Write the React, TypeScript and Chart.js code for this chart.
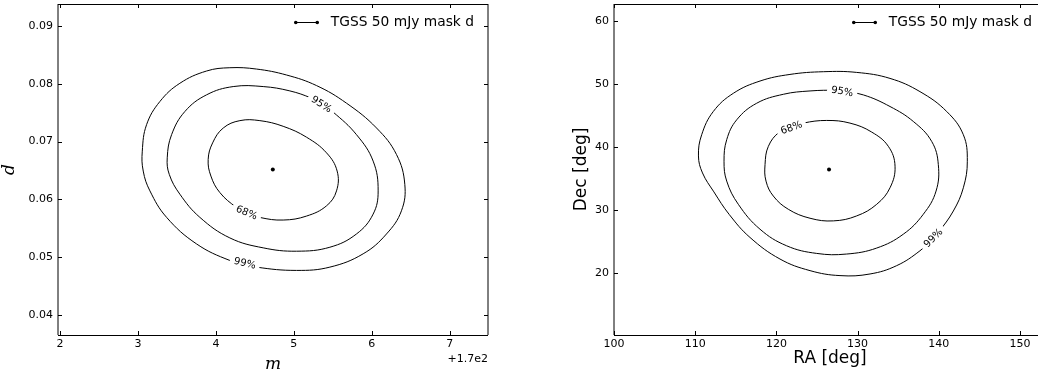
import React, { useEffect, useRef } from "react";
import { Chart, registerables } from "chart.js";

Chart.register(...registerables);

type Pt = [number, number];

// ---- tick values ----
const mTicks = [172, 173, 174, 175, 176, 177];
const dTicks = [0.04, 0.05, 0.06, 0.07, 0.08, 0.09];
const raTicks = [100, 110, 120, 130, 140, 150];
const decTicks = [20, 30, 40, 50, 60];

const legendLabel = "TGSS 50 mJy mask d";

// ---- best-fit points ----
const bestFitMD: Pt[] = [[174.73, 0.0652]];
const bestFitRaDec: Pt[] = [[126.48, 36.45]];

// ---- confidence contours in (m, d); each loop starts and ends at its label ----
const md68: Pt[] = [
  [174.394, 0.05775], [174.265, 0.05861], [174.051, 0.06119], [173.936, 0.06405],
  [173.901, 0.06692], [173.958, 0.06978], [174.094, 0.07235], [174.308, 0.07363],
  [174.564, 0.07363], [174.863, 0.07265], [175.163, 0.07076], [175.419, 0.06806],
  [175.555, 0.06491], [175.547, 0.06148], [175.419, 0.0589], [175.163, 0.05713],
  [174.863, 0.05644], [174.564, 0.05689], [174.394, 0.05775],
];
const md95: Pt[] = [
  [175.355, 0.07648], [175.504, 0.07511], [175.803, 0.07121], [176.017, 0.06663],
  [176.081, 0.06148], [176.017, 0.05747], [175.803, 0.05403], [175.462, 0.05174],
  [175.034, 0.05105], [174.607, 0.05163], [174.179, 0.05335], [173.795, 0.0569],
  [173.538, 0.06091], [173.402, 0.06434], [173.376, 0.0672], [173.432, 0.07121],
  [173.603, 0.07522], [173.88, 0.07809], [174.222, 0.07952], [174.607, 0.07952],
  [174.949, 0.07877], [175.226, 0.07751], [175.355, 0.07648],
];
const md99: Pt[] = [
  [174.372, 0.04899], [174.179, 0.04945], [173.752, 0.05231], [173.368, 0.0569],
  [173.154, 0.06148], [173.068, 0.06491], [173.056, 0.06835], [173.111, 0.07293],
  [173.282, 0.07694], [173.538, 0.08009], [173.88, 0.08221], [174.179, 0.08278],
  [174.521, 0.08255], [174.906, 0.08152], [175.291, 0.07969], [175.675, 0.07665],
  [176.06, 0.07236], [176.316, 0.06778], [176.423, 0.06262], [176.38, 0.05804],
  [176.188, 0.05403], [175.889, 0.0506], [175.462, 0.0483], [175.034, 0.04773],
  [174.521, 0.0483], [174.372, 0.04899],
];

// ---- confidence contours in (RA, Dec) ----
const radec68: Pt[] = [
  [121.84, 43.1], [123.32, 43.81], [126.19, 44.23], [129.06, 43.81], [131.73, 42.39],
  [133.78, 40.13], [134.61, 36.97], [133.99, 33.55], [132.35, 30.93], [129.89, 29.09],
  [127.01, 28.3], [124.14, 28.72], [121.47, 30.14], [119.62, 32.24], [118.72, 34.61],
  [118.6, 37.23], [119.01, 40.13], [120.36, 42.39], [121.84, 43.1],
];
const radec95: Pt[] = [
  [128.1, 48.85], [130.71, 48.28], [133.99, 46.44], [136.86, 44.07], [139.12, 40.91],
  [139.94, 37.23], [139.66, 33.03], [138.09, 29.35], [135.63, 26.19], [132.35, 23.99],
  [128.65, 23.04], [124.96, 23.14], [121.26, 24.35], [117.98, 26.98], [115.31, 30.93],
  [113.88, 34.61], [113.55, 37.76], [113.88, 41.18], [115.11, 44.33], [117.57, 46.96],
  [120.85, 48.38], [124.14, 48.91], [127.42, 49.01], [128.1, 48.85],
];
const radec99: Pt[] = [
  [139.3, 25.6], [137.68, 23.56], [134.81, 21.2], [131.53, 19.88], [127.83, 19.62],
  [124.14, 20.41], [120.44, 22.25], [116.75, 25.67], [114.2, 29.3], [112.3, 32.9],
  [110.9, 35.9], [110.4, 38.6], [110.8, 41.97], [112.23, 45.65], [114.7, 48.54],
  [117.98, 50.48], [121.67, 51.53], [125.78, 51.96], [129.89, 51.85], [133.99, 50.9],
  [137.68, 48.8], [140.97, 45.65], [143.02, 41.97], [143.51, 37.76], [143.02, 33.55],
  [141.79, 29.87], [139.94, 26.46], [139.3, 25.6],
];

const levelNames = ["68%", "95%", "99%"];

const TICK_FONT = { family: "'DejaVu Sans'", size: 11 };
const toXY = (pts: Pt[]) => pts.map(([x, y]) => ({ x, y }));

type Contour = { text: string; pts: Pt[] };

type PanelOpts = {
  contours: Contour[];
  center: Pt[];
  xRange: [number, number];
  yRange: [number, number];
  xTicks: number[];
  yTicks: number[];
  xFmt: (v: number) => string;
  yFmt: (v: number) => string;
  yAxisWidth: number;
  padRight: number;
  xTitle: string;
  yTitle: string;
  titleFont: string;
  yTitleDx: number;
  xTitleDy: number;
  offsetText?: string;
};

const decorPlugin = {
  id: "decor",
  afterDatasetsDraw(chart: any, _args: any, opts: any) {
    const ctx: CanvasRenderingContext2D = chart.ctx;
    const xs = chart.scales.x;
    const ys = chart.scales.y;
    const ca = chart.chartArea;
    ctx.save();
    ctx.beginPath();
    ctx.rect(ca.left, ca.top, ca.right - ca.left, ca.bottom - ca.top);
    ctx.clip();
    ctx.font = "10px 'DejaVu Sans'";
    for (const c of opts.contours as Contour[]) {
      const pts = c.pts;
      const n = pts.length;
      const px = xs.getPixelForValue(pts[0][0]);
      const py = ys.getPixelForValue(pts[0][1]);
      const a = pts[n - 2];
      const b = pts[1];
      let ang = Math.atan2(
        ys.getPixelForValue(b[1]) - ys.getPixelForValue(a[1]),
        xs.getPixelForValue(b[0]) - xs.getPixelForValue(a[0])
      );
      if (ang > Math.PI / 2) ang -= Math.PI;
      if (ang < -Math.PI / 2) ang += Math.PI;
      const w = ctx.measureText(c.text).width;
      ctx.save();
      ctx.translate(px, py);
      ctx.rotate(ang);
      ctx.fillStyle = "#fff";
      ctx.fillRect(-w / 2 - 4, -5, w + 8, 10);
      ctx.fillStyle = "#000";
      ctx.textAlign = "center";
      ctx.textBaseline = "middle";
      ctx.fillText(c.text, 0, 0.5);
      ctx.restore();
    }
    ctx.restore();
  },
  afterDraw(chart: any, _args: any, opts: any) {
    const ctx: CanvasRenderingContext2D = chart.ctx;
    const xs = chart.scales.x;
    const ys = chart.scales.y;
    const ca = chart.chartArea;
    ctx.save();
    // frame
    ctx.strokeStyle = "#000";
    ctx.lineWidth = 1;
    ctx.beginPath();
    ctx.moveTo(ca.left, ca.top + 0.5);
    ctx.lineTo(ca.right, ca.top + 0.5);
    ctx.moveTo(ca.left, ca.bottom + 0.5);
    ctx.lineTo(ca.right, ca.bottom + 0.5);
    ctx.moveTo(ca.left, ca.top);
    ctx.lineTo(ca.left, ca.bottom);
    ctx.moveTo(ca.right, ca.top);
    ctx.lineTo(ca.right, ca.bottom);
    ctx.stroke();
    // inward ticks on all four sides
    ctx.beginPath();
    const tl = 4;
    for (const t of xs.ticks) {
      const x = Math.round(xs.getPixelForValue(t.value)) + 0.5;
      ctx.moveTo(x, ca.bottom);
      ctx.lineTo(x, ca.bottom - tl);
      ctx.moveTo(x, ca.top);
      ctx.lineTo(x, ca.top + tl);
    }
    for (const t of ys.ticks) {
      const y = Math.round(ys.getPixelForValue(t.value)) + 0.5;
      ctx.moveTo(ca.left, y);
      ctx.lineTo(ca.left + tl, y);
      ctx.moveTo(ca.right, y);
      ctx.lineTo(ca.right - tl, y);
    }
    ctx.stroke();

    // axis titles
    ctx.fillStyle = "#000";
    ctx.textAlign = "center";
    ctx.textBaseline = "middle";
    ctx.font = opts.titleFont;
    ctx.fillText(opts.xTitle, (ca.left + ca.right) / 2, ca.bottom + opts.xTitleDy);
    ctx.save();
    ctx.translate(ca.left - opts.yTitleDx, (ca.top + ca.bottom) / 2);
    ctx.rotate(-Math.PI / 2);
    ctx.fillText(opts.yTitle, 0, 0);
    ctx.restore();

    if (opts.offsetText) {
      ctx.font = "11px 'DejaVu Sans'";
      ctx.textAlign = "right";
      ctx.fillText(opts.offsetText, ca.right, ca.bottom + 24);
    }

    // legend: line with a marker at each end, then the label
    const label = chart.data.datasets[chart.data.datasets.length - 1].label;
    ctx.font = "13.8px 'DejaVu Sans'";
    const tw = ctx.measureText(label).width;
    const textRight = ca.right - 14;
    const textLeft = textRight - tw;
    const ly = ca.top + 18.5;
    const x1 = textLeft - 13.5;
    const x0 = x1 - 21.5;
    ctx.textAlign = "left";
    ctx.fillText(label, textLeft, ly);
    ctx.beginPath();
    ctx.moveTo(x0, ly);
    ctx.lineTo(x1, ly);
    ctx.stroke();
    ctx.beginPath();
    ctx.arc(x0, ly, 1.8, 0, Math.PI * 2);
    ctx.arc(x1, ly, 1.8, 0, Math.PI * 2);
    ctx.fill();
    ctx.restore();
  },
};

function buildConfig(p: PanelOpts): any {
  const lineSets = p.contours.map((c) => ({
    label: c.text,
    data: toXY(c.pts),
    showLine: true,
    borderColor: "#000",
    borderWidth: 1,
    pointRadius: 0,
    tension: 0.4,
    fill: false,
  }));
  return {
    type: "line",
    data: {
      datasets: [
        ...lineSets,
        {
          label: legendLabel,
          data: toXY(p.center),
          showLine: false,
          pointRadius: 2,
          pointBackgroundColor: "#000",
          pointBorderColor: "#000",
          pointBorderWidth: 0,
        },
      ],
    },
    options: {
      animation: false,
      responsive: false,
      maintainAspectRatio: false,
      events: [],
      layout: { padding: { top: 2, right: p.padRight, left: 0, bottom: 0 } },
      plugins: {
        legend: { display: false },
        tooltip: { enabled: false },
        decor: p,
      },
      scales: {
        x: {
          type: "linear",
          min: p.xRange[0],
          max: p.xRange[1],
          grid: { display: false, drawTicks: false },
          border: { display: false },
          ticks: {
            font: TICK_FONT,
            color: "#000",
            padding: 3,
            maxRotation: 0,
            autoSkip: false,
            callback: (v: number) => p.xFmt(v),
          },
          afterBuildTicks: (s: any) => {
            s.ticks = p.xTicks.map((v) => ({ value: v }));
          },
          afterFit: (s: any) => {
            s.height = 41;
            s.paddingLeft = 0;
            s.paddingRight = 0;
          },
        },
        y: {
          type: "linear",
          min: p.yRange[0],
          max: p.yRange[1],
          grid: { display: false, drawTicks: false },
          border: { display: false },
          ticks: {
            font: TICK_FONT,
            color: "#000",
            padding: 5,
            autoSkip: false,
            callback: (v: number) => p.yFmt(v),
          },
          afterBuildTicks: (s: any) => {
            s.ticks = p.yTicks.map((v) => ({ value: v }));
          },
          afterFit: (s: any) => {
            s.width = p.yAxisWidth;
            s.paddingTop = 0;
            s.paddingBottom = 0;
          },
        },
      },
    },
    plugins: [decorPlugin],
  };
}

const leftPanel: PanelOpts = {
  contours: [md68, md95, md99].map((pts, i) => ({ text: levelNames[i], pts })),
  center: bestFitMD,
  xRange: [171.975, 177.49],
  yRange: [0.03656, 0.0938],
  xTicks: mTicks,
  yTicks: dTicks,
  xFmt: (v) => String(Math.round((v - 170) * 1000) / 1000),
  yFmt: (v) => v.toFixed(2),
  yAxisWidth: 58,
  padRight: 31,
  xTitle: "m",
  yTitle: "d",
  titleFont: "italic 17px 'DejaVu Serif'",
  yTitleDx: 48,
  xTitleDy: 30,
  offsetText: "+1.7e2",
};

const rightPanel: PanelOpts = {
  contours: [radec68, radec95, radec99].map((pts, i) => ({ text: levelNames[i], pts })),
  center: bestFitRaDec,
  xRange: [100, 153.2],
  yRange: [10.2, 62.7],
  xTicks: raTicks,
  yTicks: decTicks,
  xFmt: (v) => String(v),
  yFmt: (v) => String(v),
  yAxisWidth: 95,
  padRight: 13,
  xTitle: "RA [deg]",
  yTitle: "Dec [deg]",
  titleFont: "17px 'DejaVu Sans'",
  yTitleDx: 32.5,
  xTitleDy: 24,
};

function Panel({ cfg, left, width }: { cfg: PanelOpts; left: number; width: number }) {
  const ref = useRef<HTMLCanvasElement | null>(null);
  useEffect(() => {
    if (!ref.current) return;
    const chart = new Chart(ref.current, buildConfig(cfg));
    return () => chart.destroy();
  }, [cfg]);
  return (
    <canvas
      ref={ref}
      width={width}
      height={376}
      style={{ position: "absolute", left, top: 0, width, height: 376 }}
    />
  );
}

export default function App() {
  return (
    <div
      style={{
        position: "fixed",
        left: 0,
        top: 0,
        width: 1038,
        height: 376,
        overflow: "hidden",
        background: "#fff",
      }}
    >
      <Panel cfg={leftPanel} left={0} width={519} />
      <Panel cfg={rightPanel} left={519} width={540} />
    </div>
  );
}
